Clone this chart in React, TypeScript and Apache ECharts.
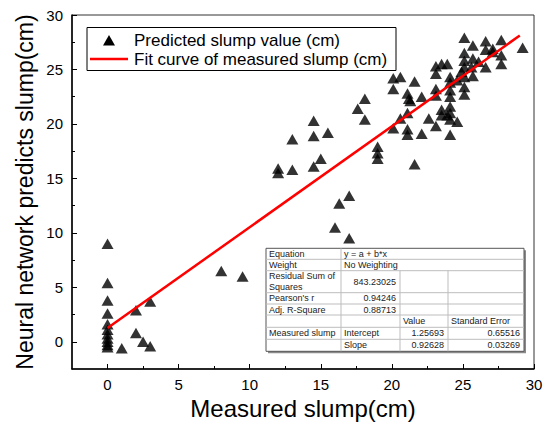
import React, { useEffect, useRef } from "react";
import * as echarts from "echarts";

// ---- data ----
const measured = [
  0, 0, 0, 0, 0, 0, 0, 0, 0, 0, 0,
  1, 2, 3, 2, 2.5, 3,
  8, 9.5,
  12, 12, 13, 13, 14.5, 14.5, 15.5, 15, 14.5,
  16, 16.3, 17, 17,
  17.6, 18.1, 18.1,
  19, 19, 19,
  20.1, 20.6, 20.1, 20.1, 20.6, 21.1, 21.1, 21.2, 21.3, 21.1, 21.1, 21.6, 21.6,
  22.1, 22.1, 22.6,
  23.1, 23.5, 23.9, 23.1, 23.1, 23.1, 23.1, 23.5, 23.5, 23.9,
  24.1, 24.1, 24.1, 24.1, 24.1, 24.1, 24.1, 24.6, 24.1, 24.6, 24.9,
  25.1, 25.7, 25.1, 25.7, 25.1, 26.1, 25.1, 25.6, 25.7, 25.1, 25.1, 25.1,
  26.6, 26.6, 27.1, 26.6, 27.1,
  27.7, 27.7, 27.7,
  29.2,
];
const predicted = [
  9.0, 5.4, 3.8, 2.6, 1.6, 1.1, 0.7, 0.3, 0.0, -0.3, -0.5,
  -0.6, 2.9, 3.7, 0.8, 0.0, -0.4,
  6.5, 6.0,
  15.5, 15.9, 15.8, 18.6, 20.3, 18.9, 19.2, 16.8, 16.1,
  10.5, 12.7, 13.4, 9.5,
  21.4, 22.3, 20.4,
  17.9, 17.3, 16.8,
  24.2, 24.3, 23.2, 19.6, 20.5, 21.0, 22.8, 22.3, 22.1, 19.5, 19.0, 23.9, 16.3,
  22.5, 19.1, 20.5,
  25.3, 25.5, 25.5, 24.6, 23.2, 22.6, 19.8, 21.3, 20.8, 20.8,
  24.3, 23.8, 23.1, 22.5, 21.6, 21.0, 20.4, 20.2, 19.0, 24.0, 24.8,
  27.9, 27.2, 26.5, 26.0, 25.8, 25.7, 25.2, 25.2, 24.4, 24.3, 23.4, 22.7,
  27.6, 26.8, 26.9, 25.2, 26.6,
  27.7, 26.3, 25.5,
  27.0,
];
const fitIntercept = 1.25693;
const fitSlope = 0.92628;
const fitRange = [0, 29];

const xTicks = [0, 5, 10, 15, 20, 25, 30];
const yTicks = [0, 5, 10, 15, 20, 25, 30];
const xMinorTicks = [2.5, 7.5, 12.5, 17.5, 22.5, 27.5];
const yMinorTicks = [2.5, 7.5, 12.5, 17.5, 22.5, 27.5];

const legendLabels = ["Predicted slump value (cm)", "Fit curve of measured slump (cm)"];
const xTitle = "Measured slump(cm)";
const yTitle = "Neural network predicts slump(cm)";

const tableRows: string[][] = [
  ["Equation", "y = a + b*x"],
  ["Weight", "No Weighting"],
  ["Residual Sum of\nSquares", "843.23025", "", ""],
  ["Pearson's r", "0.94246", "", ""],
  ["Adj. R-Square", "0.88713", "", ""],
  ["", "", "Value", "Standard Error"],
  ["Measured slump", "Intercept", "1.25693", "0.65516"],
  ["", "Slope", "0.92628", "0.03269"],
];

const FONT = '"Liberation Sans", Arial, sans-serif';

function buildTable() {
  const colX = [266, 341, 400, 448, 524];
  const rowY = [248.3, 259.3, 270.7, 292.7, 304, 315, 327.3, 339.3, 351.3];
  const els: any[] = [];
  const left = colX[0];
  const right = colX[colX.length - 1];
  const top = rowY[0];
  const bottom = rowY[rowY.length - 1];
  els.push({
    type: "rect",
    shape: { x: left + 2, y: top + 2, width: right - left, height: bottom - top },
    style: { fill: "#8a8a8a" },
    z: 100,
  });
  els.push({
    type: "rect",
    shape: { x: left, y: top, width: right - left, height: bottom - top },
    style: { fill: "#fff", stroke: "#555", lineWidth: 1 },
    z: 101,
  });
  for (let r = 1; r < rowY.length - 1; r++) {
    els.push({
      type: "line",
      shape: { x1: left, y1: rowY[r], x2: right, y2: rowY[r] },
      style: { stroke: "#bdbdbd", lineWidth: 1 },
      z: 102,
    });
  }
  tableRows.forEach((row, r) => {
    const y1 = rowY[r];
    const y2 = rowY[r + 1];
    for (let c = 1; c < row.length; c++) {
      els.push({
        type: "line",
        shape: { x1: colX[c], y1, x2: colX[c], y2 },
        style: { stroke: "#bdbdbd", lineWidth: 1 },
        z: 102,
      });
    }
    row.forEach((txt, c) => {
      if (!txt) return;
      const numeric = /^[-\d.]+$/.test(txt);
      const cellRight = c === row.length - 1 ? right : colX[c + 1];
      els.push({
        type: "text",
        x: numeric ? cellRight - 4 : colX[c] + 3,
        y: (y1 + y2) / 2,
        style: {
          text: txt,
          fontSize: 9,
          fontFamily: FONT,
          fill: "#222",
          align: numeric ? "right" : "left",
          verticalAlign: "middle",
          lineHeight: 11.6,
        },
        z: 103,
      });
    });
  });
  return els;
}

function buildLegend() {
  const els: any[] = [];
  els.push({
    type: "rect",
    shape: { x: 87, y: 27.5, width: 309, height: 43 },
    style: { fill: "#fff", stroke: "#000", lineWidth: 1 },
    z: 100,
  });
  els.push({
    type: "polygon",
    shape: { points: [[103, 45.5], [115, 45.5], [109, 35]] },
    style: { fill: "#000" },
    z: 101,
  });
  els.push({
    type: "line",
    shape: { x1: 90, y1: 59, x2: 128, y2: 59 },
    style: { stroke: "#ff0000", lineWidth: 2.5 },
    z: 101,
  });
  legendLabels.forEach((t, i) => {
    els.push({
      type: "text",
      x: 134,
      y: 40 + i * 19.5,
      style: { text: t, fontSize: 17, fontFamily: FONT, fill: "#000", verticalAlign: "middle", align: "left" },
      z: 101,
    });
  });
  return els;
}

export default function App() {
  const ref = useRef<HTMLDivElement>(null);
  useEffect(() => {
    if (!ref.current) return;
    const chart = echarts.init(ref.current, undefined, { renderer: "svg" });
    const xMin = -2.5, xMax = 30, yMin = -2.5, yMax = 30;
    const common = { fontFamily: FONT, color: "#000" };
    chart.setOption({
      animation: false,
      backgroundColor: "#fff",
      grid: {
        left: 72, right: 11, top: 15, bottom: 57,
        show: true, borderColor: "#333", borderWidth: 1, backgroundColor: "transparent",
        containLabel: false,
        outerBoundsMode: "none",
      },
      xAxis: [
        {
          type: "value", min: xMin, max: xMax, position: "bottom",
          axisLine: { show: true, onZero: false, lineStyle: { color: "#000", width: 1.5 } },
          axisTick: { show: true, inside: true, length: 5, customValues: xTicks, lineStyle: { color: "#000", width: 1 } },
          axisLabel: { customValues: xTicks, fontSize: 15, margin: 8, ...common },
          splitLine: { show: false },
          name: xTitle, nameLocation: "middle", nameGap: 27, nameMoveOverlap: false,
          nameTextStyle: { fontSize: 24, ...common },
        },
        {
          type: "value", min: xMin, max: xMax, position: "bottom",
          axisLine: { show: false, onZero: false },
          axisTick: { show: true, inside: true, length: 3, customValues: xMinorTicks, lineStyle: { color: "#000", width: 1 } },
          axisLabel: { show: false },
          splitLine: { show: false },
        },
      ],
      yAxis: [
        {
          type: "value", min: yMin, max: yMax, position: "left",
          axisLine: { show: true, onZero: false, lineStyle: { color: "#000", width: 1.5 } },
          axisTick: { show: true, inside: true, length: 5, customValues: yTicks, lineStyle: { color: "#000", width: 1 } },
          axisLabel: { customValues: yTicks, fontSize: 15, margin: 9, ...common },
          splitLine: { show: false },
          name: yTitle, nameLocation: "middle", nameGap: 36, nameMoveOverlap: false,
          nameTextStyle: { fontSize: 23, ...common },
        },
        {
          type: "value", min: yMin, max: yMax, position: "left",
          axisLine: { show: false, onZero: false },
          axisTick: { show: true, inside: true, length: 3, customValues: yMinorTicks, lineStyle: { color: "#000", width: 1 } },
          axisLabel: { show: false },
          splitLine: { show: false },
        },
      ],
      series: [
        {
          type: "scatter", xAxisIndex: 0, yAxisIndex: 0,
          symbol: "triangle", symbolSize: [12, 10.5],
          itemStyle: { color: "#000" },
          data: measured.map((x, i) => [x, predicted[i]]),
          z: 3,
        },
        {
          type: "line", xAxisIndex: 0, yAxisIndex: 0,
          symbol: "none",
          lineStyle: { color: "#ff0000", width: 2.5 },
          data: fitRange.map((x) => [x, fitIntercept + fitSlope * x]),
          z: 4,
        },
      ],
      graphic: [...buildLegend(), ...buildTable()],
    });
    return () => chart.dispose();
  }, []);
  return (
    <div
      ref={ref}
      style={{ position: "absolute", left: 0, top: 0, width: 545, height: 426 }}
    />
  );
}
